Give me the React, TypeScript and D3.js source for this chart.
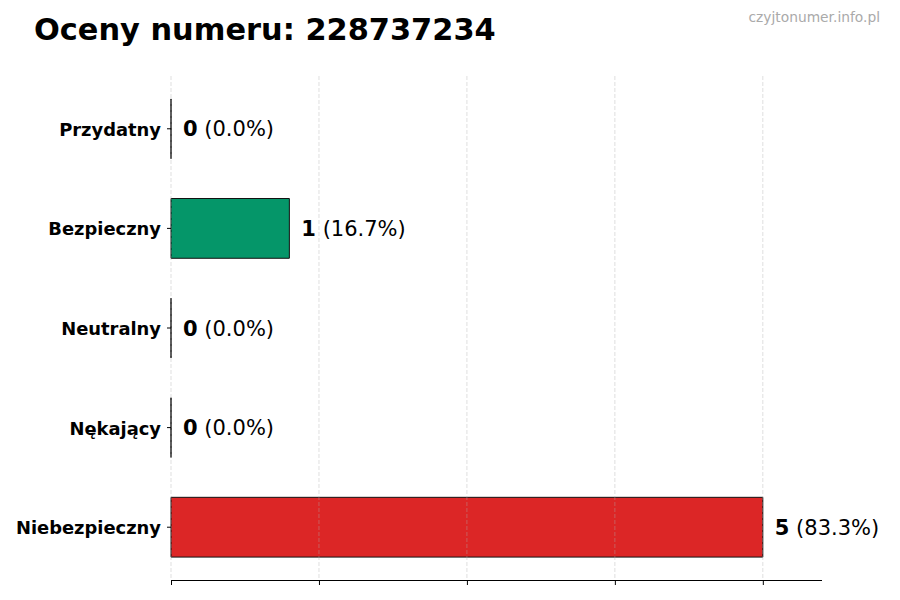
import { useEffect, useRef } from "react";
import * as d3 from "d3";

const categories = ["Przydatny", "Bezpieczny", "Neutralny", "Nękający", "Niebezpieczny"];
const counts = [0, 1, 0, 0, 5];
const percents = ["0.0%", "16.7%", "0.0%", "0.0%", "83.3%"];
const barColors = ["#10b981", "#059669", "#9ca3af", "#f59e0b", "#dc2626"];
const xTicks = [0, 1.25, 2.5, 3.75, 5];

const FONT = "'DejaVu Sans', sans-serif";

export default function App() {
  const svgRef = useRef<SVGSVGElement>(null);

  useEffect(() => {
    if (!svgRef.current) return;
    const svg = d3.select(svgRef.current);
    svg.selectAll("*").remove();

    const width = 900;
    const height = 600;
    const plot = { left: 171, right: 822, top: 76, bottom: 580 };

    const x = d3.scaleLinear().domain([0, 5.5]).range([plot.left, plot.right]);
    // category 0 at the top, matplotlib-like margins around the bars
    const y = d3
      .scaleLinear()
      .domain([-0.53, categories.length - 1 + 0.53])
      .range([plot.top, plot.bottom]);
    const barH = y(0.3) - y(-0.3);

    svg.append("rect").attr("width", width).attr("height", height).attr("fill", "#ffffff");

    // bars (a zero-width rect draws nothing in svg, so use a path outline)
    svg
      .append("g")
      .selectAll("path")
      .data(counts)
      .enter()
      .append("path")
      .attr("d", (d, i) => {
        const x0 = x(0);
        const x1 = x(d);
        const y0 = y(i) - barH / 2;
        const y1 = y(i) + barH / 2;
        return `M${x0},${y0}H${x1}V${y1}H${x0}Z`;
      })
      .attr("fill", (_, i) => barColors[i])
      .attr("stroke", "#111")
      .attr("stroke-width", 1);

    // grid
    svg
      .append("g")
      .selectAll("line")
      .data(xTicks)
      .enter()
      .append("line")
      .attr("x1", (d) => x(d))
      .attr("x2", (d) => x(d))
      .attr("y1", plot.top)
      .attr("y2", plot.bottom)
      .attr("stroke", "#b0b0b0")
      .attr("stroke-opacity", 0.5)
      .attr("stroke-width", 0.8)
      .attr("stroke-dasharray", "4,2");

    // bottom axis
    const xAxis = d3
      .axisBottom(x)
      .tickValues(xTicks)
      .tickSize(5)
      .tickFormat(() => "");
    const gx = svg.append("g").attr("transform", `translate(0, ${plot.bottom})`).call(xAxis);
    gx.select(".domain").attr("d", `M${plot.left},0.5H${plot.right}`).attr("stroke", "#000");
    gx.selectAll(".tick line").attr("stroke", "#000");

    // y ticks + labels
    const yg = svg.append("g");
    categories.forEach((c, i) => {
      yg.append("line")
        .attr("x1", plot.left - 4)
        .attr("x2", plot.left)
        .attr("y1", y(i))
        .attr("y2", y(i))
        .attr("stroke", "#000");
      yg.append("text")
        .attr("x", plot.left - 10)
        .attr("y", y(i) + 7)
        .attr("text-anchor", "end")
        .style("font-family", FONT)
        .style("font-size", "17.9px")
        .style("font-weight", "bold")
        .attr("fill", "#000")
        .text(c);
    });

    // value labels
    const lg = svg.append("g");
    counts.forEach((v, i) => {
      const t = lg
        .append("text")
        .attr("x", x(v) + 12)
        .attr("y", y(i) + 7.5)
        .style("font-family", FONT)
        .style("font-size", "21px")
        .attr("fill", "#000");
      t.append("tspan").style("font-weight", "bold").text(String(v));
      t.append("tspan").text(` (${percents[i]})`);
    });

    // title
    svg
      .append("text")
      .attr("x", 34)
      .attr("y", 40)
      .style("font-family", FONT)
      .style("font-size", "30.4px")
      .style("font-weight", "bold")
      .attr("fill", "#000")
      .text("Oceny numeru: 228737234");

    // watermark
    svg
      .append("text")
      .attr("x", 880)
      .attr("y", 22)
      .attr("text-anchor", "end")
      .style("font-family", FONT)
      .style("font-size", "13.8px")
      .attr("fill", "#aaaaaa")
      .text("czyjtonumer.info.pl");
  }, []);

  return (
    <div style={{ position: "absolute", left: 0, top: 0 }}>
      <svg ref={svgRef} width={900} height={600} style={{ display: "block" }} />
    </div>
  );
}
